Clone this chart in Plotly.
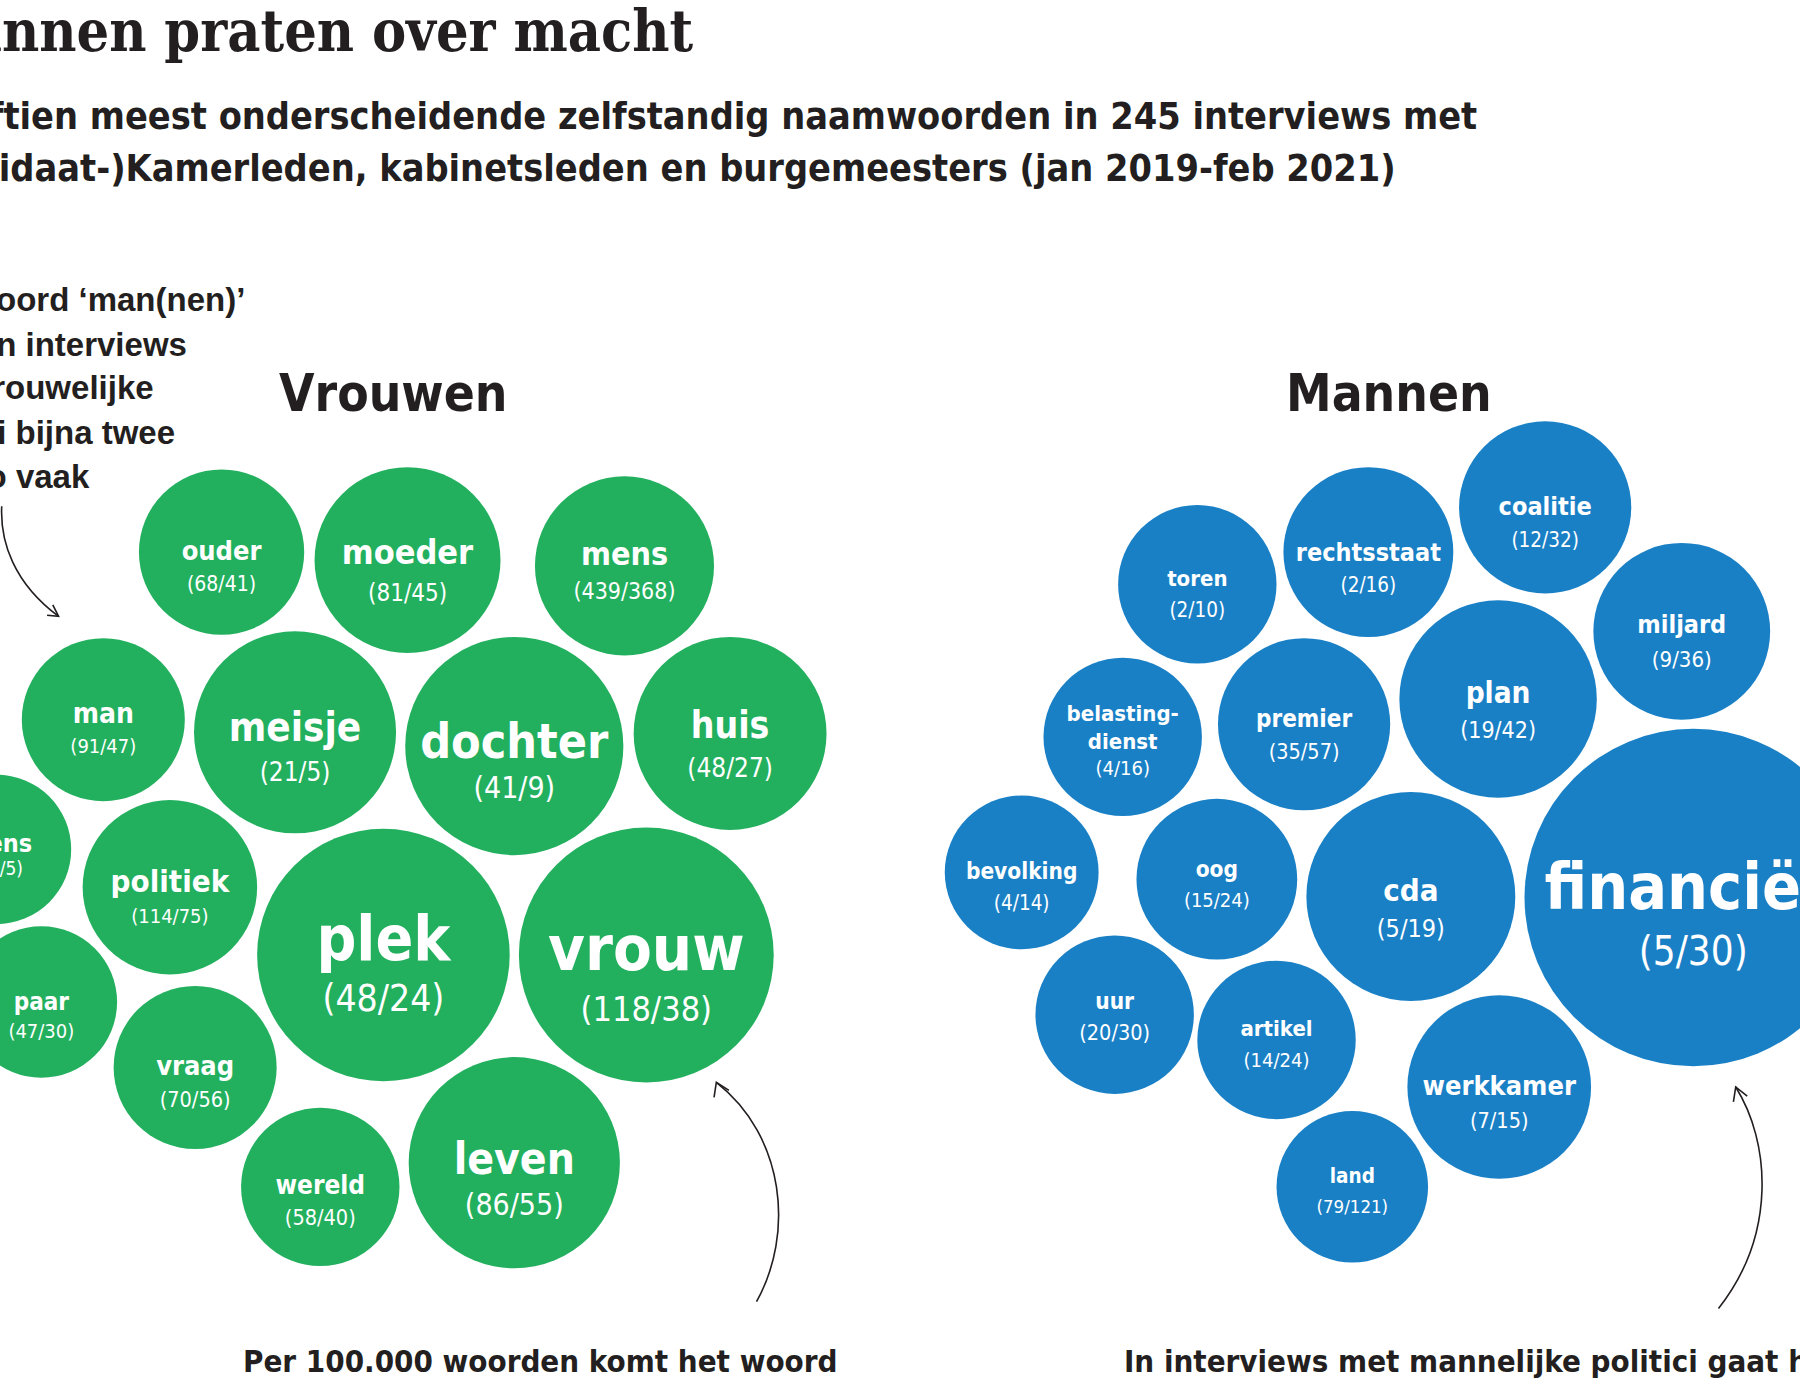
import plotly.graph_objects as go

# ---------------- data ----------------
# words most typical for interviews with female politicians
# (occurrences per 100.000 words: women / men)
vrouwen_woorden = ["ouder", "moeder", "mens", "man", "meisje", "dochter", "huis", "wens",
                   "politiek", "plek", "vrouw", "paar", "vraag", "wereld", "leven"]
vrouwen_bij_vrouwen = [68, 81, 439, 91, 21, 41, 48, 13, 114, 48, 118, 47, 70, 58, 86]
vrouwen_bij_mannen = [41, 45, 368, 47, 5, 9, 27, 5, 75, 24, 38, 30, 56, 40, 55]

# words most typical for interviews with male politicians
mannen_woorden = ["toren", "rechtsstaat", "coalitie", "miljard", "belastingdienst", "premier",
                  "plan", "bevolking", "oog", "cda", "financiën", "uur", "artikel",
                  "werkkamer", "land"]
mannen_bij_vrouwen = [2, 2, 12, 9, 4, 35, 19, 4, 15, 5, 5, 20, 14, 7, 79]
mannen_bij_mannen = [10, 16, 32, 36, 16, 57, 42, 14, 24, 19, 30, 30, 24, 15, 121]

# ---------------- layout of the bubble packing (reference units 1568 x 1211) ----------------
W0, H0 = 1568, 1211
S = 1800 / W0
# (cx, cy, r, word dy, count dy, word size px, count size px)
vrouwen_pos = [
    (193, 481, 72, -2, 26, 27, 21),
    (355, 488, 81, -7, 27, 34, 24),
    (544, 493, 78, -11, 21, 32, 23),
    (90, 627, 71, -6, 22, 28, 20),
    (257, 638, 88, -4, 34, 40, 26),
    (448, 650, 95, -3, 36, 48, 30),
    (636, 639, 84, -7, 29, 37, 26),
    (-3, 740, 65, -6, 15, 25, 19),
    (148, 773, 76, -6, 24, 31, 20),
    (334, 832, 110, -12, 38, 62, 37),
    (563, 832, 111, -4, 47, 63, 34),
    (36, 873, 66, -1, 24, 24, 20),
    (170, 930, 71, -2, 27, 27, 21.5),
    (279, 1034, 69, -2, 26, 26, 21.5),
    (448, 1013, 92, -3, 36, 44, 30),
]
mannen_pos = [
    (1043, 509, 69, -6, 21, 22, 20.5),
    (1192, 481, 74, -1, 27, 25, 20.5),
    (1346, 442, 75, -2, 27, 25, 20.5),
    (1465, 550, 77, -7, 23, 25, 22),
    (978, 642, 69, -22, 26, 22, 20),
    (1136, 631, 75, -6, 23, 24, 21.5),
    (1305, 609, 86, -6, 26, 29.5, 23),
    (890, 760, 67, -2, 25, 22.5, 20.5),
    (1060, 766, 70, -10, 17, 22.5, 20),
    (1229, 781, 91, -6, 27, 31, 25),
    (1475, 782, 147, -7, 47, 64, 40),
    (971, 884, 69, -13, 14, 22.5, 21.5),
    (1112, 906, 69, -11, 16, 22, 20),
    (1306, 947, 80, -2, 28, 27, 21.5),
    (1178, 1034, 66, -11, 16, 20.5, 18.5),
]

GREEN = "#22b05e"
BLUE = "#1a80c6"
INK = "#231f20"
COND = "DejaVu Sans Condensed, Liberation Sans, sans-serif"
SANS = "Liberation Sans, Arial, sans-serif"
SERIF = "DejaVu Serif Condensed, DejaVu Serif, serif"
TEXT_SHIFT = 3  # vertical optical correction of the bubble labels

fig = go.Figure()


def add_group(words, a, b, pos, color):
    fig.add_trace(go.Scatter(
        x=[p[0] for p in pos], y=[p[1] for p in pos], mode="markers", hoverinfo="skip",
        marker=dict(size=[2 * p[2] * S for p in pos], color=color, line=dict(width=0), opacity=1),
    ))
    labels, lx, ly, lsize, lpos = [], [], [], [], []
    cl, cxs, cys, csize, cpos = [], [], [], [], []
    for w, va, vb, p in zip(words, a, b, pos):
        x, y, r, wdy, cdy, ws, cs = p
        y = y + TEXT_SHIFT
        tp, tx, cx = "middle center", x, x
        if x < 10:  # bubble cut by the left edge: keep the text flush with its visible part
            tp, tx, cx = "middle left", x + 31, x + 23
        if w == "belastingdienst":
            parts = ["belasting-", "dienst"]
            labels += parts
            lx += [tx, tx]
            ly += [y + wdy, y + wdy + 25]
            lsize += [ws, ws]
            lpos += [tp, tp]
        else:
            labels.append(w)
            lx.append(tx)
            ly.append(y + wdy)
            lsize.append(ws)
            lpos.append(tp)
        cl.append(f"({va}/{vb})")
        cxs.append(cx)
        cys.append(y + cdy)
        csize.append(cs)
        cpos.append(tp)
    fig.add_trace(go.Scatter(
        x=lx, y=ly, mode="text", text=labels, textposition=lpos, hoverinfo="skip",
        textfont=dict(family=COND, size=lsize, color="white", weight="bold"),
    ))
    fig.add_trace(go.Scatter(
        x=cxs, y=cys, mode="text", text=cl, textposition=cpos, hoverinfo="skip",
        textfont=dict(family=COND, size=csize, color="white"),
    ))


add_group(vrouwen_woorden, vrouwen_bij_vrouwen, vrouwen_bij_mannen, vrouwen_pos, GREEN)
add_group(mannen_woorden, mannen_bij_vrouwen, mannen_bij_mannen, mannen_pos, BLUE)

annotations = []


def note(x, y, text, size, family=COND, anchor="left", color=INK, bold=True):
    annotations.append(dict(
        x=x, y=y, xref="x", yref="y", text=text, showarrow=False,
        xanchor=anchor, yanchor="middle",
        font=dict(family=family, size=size, color=color, weight="bold" if bold else "normal"),
    ))


# title + subtitle (cropped on the left in the original)
note(605, 27, "Mannen praten over macht", 57, family=SERIF, anchor="right")
note(1288, 101, "De vijftien meest onderscheidende zelfstandig naamwoorden in 245 interviews met", 37.5,
     anchor="right")
note(1218, 146, "(kandidaat-)Kamerleden, kabinetsleden en burgemeesters (jan 2019-feb 2021)", 37.5,
     anchor="right")

# group headers
note(343, 343, "Vrouwen", 51, anchor="center")
note(1210, 343, "Mannen", 51, anchor="center")

# left explanatory note
left_lines = [(215, 261, "Het woord ‘man(nen)’"), (165, 300, "komt in interviews"),
              (136, 338, "met vrouwelijke"), (154, 377, "politici bijna twee"),
              (80, 415, "keer zo vaak")]
for xr, yy, t in left_lines:
    note(xr, yy, t, 33, family=SANS, anchor="right")

# bottom notes
note(210, 1186, "Per 100.000 woorden komt het woord", 31)
note(977, 1186, "In interviews met mannelijke politici gaat het vaker over", 31)

# curved arrows
shapes = []
arrow_line = dict(color=INK, width=1.6)
for path in [
    "M 1.5,441 C 0,472 12,508 51,537",
    "M 41,536 L 51,537 L 46,527",
    "M 659,1134 C 692,1075 684,990 624,943",
    "M 622,956 L 624,943 L 635,950",
    "M 1497,1140 C 1548,1075 1542,995 1512,947",
    "M 1510,960 L 1512,947 L 1522,955",
]:
    shapes.append(dict(type="path", path=path, xref="x", yref="y", line=arrow_line,
                       fillcolor="rgba(0,0,0,0)"))

fig.update_layout(
    width=1800, height=1390,
    margin=dict(l=0, r=0, t=0, b=0),
    paper_bgcolor="white", plot_bgcolor="white",
    showlegend=False,
    xaxis=dict(range=[0, W0], visible=False, fixedrange=True),
    yaxis=dict(range=[H0, 0], visible=False, fixedrange=True),
    annotations=annotations,
    shapes=shapes,
)

fig.write_html("out.html", config={"displayModeBar": False},
               post_script="document.body.style.margin='0px';")
